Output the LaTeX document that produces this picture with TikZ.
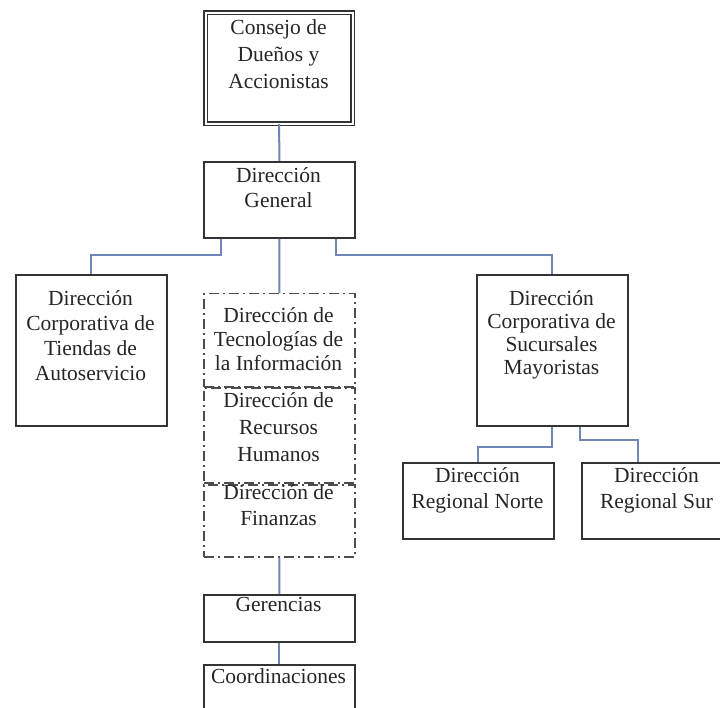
\documentclass[tikz,border=0pt]{standalone}
\usepackage{fontspec}
\setmainfont{Liberation Serif}
\newcommand\topstrut{\rule{0pt}{17pt}}
\begin{document}
\begin{tikzpicture}[x=1pt,y=-1pt,
  box/.style={draw=black!80,line width=1.8pt,fill=none,inner sep=0pt,anchor=north west},
  dbox/.style={draw=black!70,line width=1.5pt,inner sep=0pt,anchor=north west,
    dash pattern=on 10pt off 4pt on 2pt off 4pt},
  lbl/.style={anchor=north,inner sep=0pt,align=center,text=black!85},
  fs/.style={font=\fontsize{21.5}{#1}\selectfont},
  link/.style={draw={rgb,255:red,112;green,134;blue,184},line width=2pt}]
\useasboundingbox (0,0) rectangle (720,708);
\clip (0,0) rectangle (720,708);
\fill[white] (0,0) rectangle (720,708);

% boxes
\node[box,double,double distance=2pt,line width=1.2pt,minimum width=147pt,minimum height=111pt] (consejo) at (205,12) {};
\node[box,minimum width=151pt,minimum height=76pt] (general) at (203,161) {};
\node[box,minimum width=151pt,minimum height=151pt] (tiendas) at (15,274) {};
\node[dbox,minimum width=151pt,minimum height=93pt] (ti) at (203,293) {};
\node[dbox,minimum width=151pt,minimum height=95pt] (rh) at (203,387) {};
\node[dbox,minimum width=151pt,minimum height=72pt] (fin) at (203,484) {};
\node[box,minimum width=151pt,minimum height=47pt] (ger) at (203,594) {};
\node[box,minimum width=151pt,minimum height=80pt] (coord) at (203,664) {};
\node[box,minimum width=151pt,minimum height=151pt] (sucursales) at (476,274) {};
\node[box,minimum width=151pt,minimum height=76pt] (norte) at (402,462) {};
\node[box,minimum width=151pt,minimum height=76pt] (sur) at (581,462) {};

% labels
\node[lbl,fs=27] (tconsejo) at (278.5,17) {\topstrut Consejo de\\Dueños y\\Accionistas};
\node[lbl,fs=25] (tgeneral) at (278.5,165) {\topstrut Dirección\\General};
\node[lbl,fs=25] (ttiendas) at (90.5,288) {\topstrut Dirección\\Corporativa de\\Tiendas de\\Autoservicio};
\node[lbl,fs=24] (tti) at (278.5,305) {\topstrut Dirección de\\Tecnologías de\\la Información};
\node[lbl,fs=27] (trh) at (278.5,390) {\topstrut Dirección de\\Recursos\\Humanos};
\node[lbl,fs=26] (tfin) at (278.5,482) {\topstrut Dirección de\\Finanzas};
\node[lbl,fs=25] (tger) at (278.5,594) {\topstrut Gerencias};
\node[lbl,fs=25] (tcoord) at (278.5,666) {\topstrut Coordinaciones};
\node[lbl,fs=23] (tsuc) at (551.5,288) {\topstrut Dirección\\Corporativa de\\Sucursales\\Mayoristas};
\node[lbl,fs=26] (tnorte) at (477.5,465) {\topstrut Dirección\\Regional Norte};
\node[lbl,fs=26] (tsur) at (656.5,465) {\topstrut Dirección\\Regional Sur};

% connectors
\coordinate (bar) at (0,255);
\coordinate (split1) at (0,447);
\coordinate (split2) at (0,440);
\draw[link] (consejo.south) -- (general.north);
\draw[link] ([xshift=-58.5pt]general.south) |- (bar -| tiendas.north) -- (tiendas.north);
\draw[link] (general.south) -- (ti.north);
\draw[link] ([xshift=56.5pt]general.south) |- (bar -| sucursales.north) -- (sucursales.north);
\draw[link] (sucursales.south) |- (split1 -| norte.north) -- (norte.north);
\draw[link] ([xshift=28pt]sucursales.south) |- ([xshift=-19pt]split2 -| sur.north) -- ([xshift=-19pt]sur.north);
\draw[link] (fin.south) -- (ger.north);
\draw[link] (ger.south) -- (coord.north);
\end{tikzpicture}
\end{document}
